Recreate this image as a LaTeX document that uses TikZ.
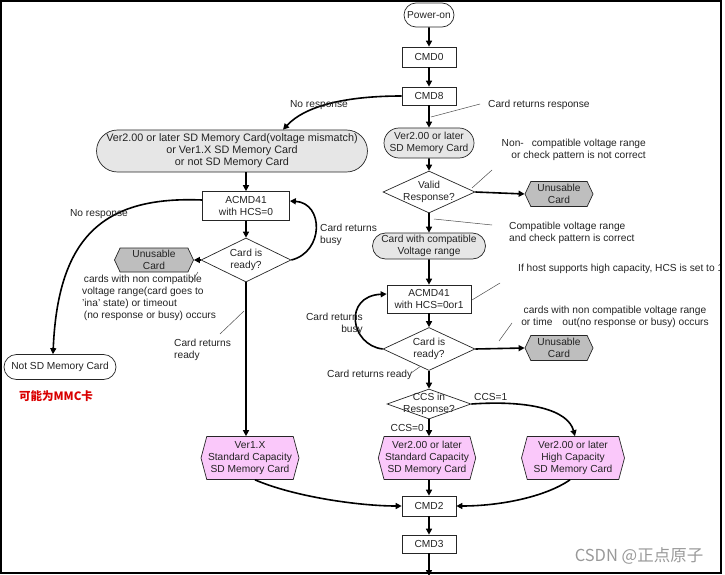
\documentclass[tikz,border=0pt]{standalone}
\usepackage{fontspec}
\setmainfont{Liberation Sans}
\newfontfamily\cjk{Noto Sans CJK SC}
\usetikzlibrary{arrows.meta,shapes.misc,shapes.geometric,shapes.symbols}
\definecolor{gfill}{RGB}{230,230,230}
\definecolor{hfill}{RGB}{190,190,190}
\definecolor{pfill}{RGB}{250,200,250}
\definecolor{lbl}{RGB}{35,35,35}
\tikzset{
 base/.style={draw=black!85, line width=0.7pt, font=\fontsize{10.2}{12}\selectfont, align=center, inner sep=1pt, text=lbl},
 boxn/.style={base, rectangle, minimum width=54, minimum height=20},
 stad/.style={base, rounded rectangle, minimum height=24},
 gstad/.style={stad, fill=gfill},
 dia/.style={base, diamond, minimum width=92, minimum height=42, inner sep=0pt},
 hexn/.style={base, signal, signal to=east and west, signal pointer angle=130, fill=hfill},
 phex/.style={hexn, fill=pfill, signal pointer angle=150},
 arr/.style={line width=1.6pt, -{Triangle[length=6pt,width=6pt]}},
 lead/.style={line width=0.5pt, black!70},
 lab/.style={font=\fontsize{10.2}{12}\selectfont, text=lbl, inner sep=0pt},
}
\begin{document}
\begin{tikzpicture}[x=1pt,y=-1pt]
\useasboundingbox (0,0) rectangle (725,575);
\begin{scope}
\clip (0,0) rectangle (721,575);
% right column
\node[stad, minimum width=52] (pwr) at (429,15) {Power-on};
\node[boxn] (c0) at (429,57) {CMD0};
\node[boxn, minimum height=18] (c8) at (429,96) {CMD8};
\node[gstad, minimum width=258, minimum height=42, font=\fontsize{10.8}{12}\selectfont] (s1) at (232,151) {Ver2.00 or later SD Memory Card(voltage mismatch)\\or Ver1.X SD Memory Card\\or not SD Memory Card};
\node[gstad, minimum width=92, minimum height=30] (s2) at (429,143) {Ver2.00 or later\\SD Memory Card};
\node[dia] (d1) at (429,192) {};
\node[lab, align=center] (d1t) at (d1) {Valid\\Response?};
\node[hexn, minimum width=68, minimum height=25] (u1) at (559,194) {Unusable\\Card};
\node[gstad, minimum width=115, minimum height=26] (s3) at (429,246) {Card with compatible\\Voltage range};
\node[boxn, minimum width=84, minimum height=28] (a2) at (429,299) {ACMD41\\with HCS=0or1};
\node[dia, minimum height=43] (d2) at (429,349) {};
\node[lab, align=center] (d2t) at (d2) {Card is\\ready?};
\node[hexn, minimum width=68, minimum height=25] (u2) at (559,348) {Unusable\\Card};
\node[dia, minimum width=84, minimum height=30] (d3) at (429,404) {};
\node[lab, align=center] (d3t) at (d3) {CCS in\\Response?};
\node[phex, minimum width=98, minimum height=43] (p1) at (250,458) {Ver1.X\\Standard Capacity\\SD Memory Card};
\node[phex, minimum width=97, minimum height=43] (p2) at (427,458) {Ver2.00 or later\\Standard Capacity\\SD Memory Card};
\node[phex, minimum width=103, minimum height=43] (p3) at (573,458) {Ver2.00 or later\\High Capacity\\SD Memory Card};
\node[boxn] (m2) at (429,506) {CMD2};
\node[boxn, minimum height=18] (m3) at (429,544) {CMD3};
\coordinate (bot) at (429,576);
% left column
\node[boxn, minimum width=87, minimum height=29] (a1) at (246,206) {ACMD41\\with HCS=0};
\node[dia, minimum width=90, minimum height=44] (dl) at (246,260) {};
\node[lab, align=center] (dlt) at (dl) {Card is\\ready?};
\node[hexn, minimum width=79, minimum height=24] (ul) at (154,260) {Unusable\\Card};
\node[stad, minimum width=114, minimum height=25] (ns) at (60,367) {Not SD Memory Card};
% arrows
\draw[arr] (pwr) -- (c0);
\draw[arr] (c0) -- (c8);
\draw[arr] (c8) -- (s2);
\draw[arr] (s2) -- (d1);
\draw[arr] (d1.east) -- (u1.west);
\draw[arr] (d1.south) -- (s3.north);
\draw[arr] (s3) -- (a2);
\draw[arr] (a2.south) -- (d2.north);
\draw[arr] (d2.east) -- (u2.west);
\draw[arr] (d2.south) -- (d3.north);
\draw[arr] (d3.south) -- (d3.south |- p2.north);
\draw[arr] (p2.south -| m2.north) -- (m2.north);
\draw[arr] (m2) -- (m3);
\draw[arr] (m3.south) -- (bot);
\draw[arr] (c8.west) .. controls (345,96) and (305,106) .. ([xshift=51pt]s1.north);
\draw[arr] (d2.west) .. controls (350,345) and (343,296) .. ([yshift=5pt]a2.west);
\draw[arr] (d3.east) .. controls (530,400) and (568,410) .. ([xshift=2pt]p3.north);
\draw[arr] ([xshift=5pt]p1.south) .. controls (295,497) and (360,506) .. (m2.west);
\draw[arr] ([xshift=-3pt]p3.south) .. controls (545,497) and (500,506) .. (m2.east);
\draw[arr] (s1.south -| a1.north) -- (a1.north);
\draw[arr] (a1) -- (dl);
\draw[arr] (dl.west) -- (ul.east);
\draw[arr] (dl.east) .. controls (324,252) and (324,203) .. ([yshift=5pt]a1.east);
\draw[arr] (dl.south) -- (dl.south |- p1.north);
\draw[arr] ([yshift=6pt]a1.west) .. controls (105,196) and (58,235) .. ([xshift=-7pt]ns.north);
% labels
\node[lab] (l1) at (319,105) {No response};
\node[lab, anchor=west] (l2) at (488,105) {Card returns response};
\node[lab, anchor=east, align=right] (l3) at (646,150) {Non-\hspace{8pt}compatible voltage range\\or check pattern is not correct};
\node[lab, anchor=west, align=left] (l4) at (509,233) {Compatible voltage range\\ and check pattern is correct};
\node[lab, anchor=west] (l5) at (518,269) {If host supports high capacity, HCS is set to 1};
\node[lab, align=center] (l6) at (615,317) {cards with non compatible voltage range\\or time\hspace{10pt}out(no response or busy) occurs};
\node[lab, anchor=east, align=right] (l7) at (363,324) {Card returns\\busy};
\node[lab, anchor=west] (l8) at (327,375) {Card returns ready};
\node[lab, anchor=west] (l9) at (474,397) {CCS=1};
\node[lab, anchor=east] (l10) at (424,428) {CCS=0};
\node[lab, anchor=west, align=left] (l11) at (320,235) {Card returns\\busy};
\node[lab] (l12) at (99,214) {No response};
\node[lab, anchor=north west, align=left] (l13) at (82,275) {\,cards with non compatible\\voltage range(card goes to\\'ina' state) or timeout\\\,(no response or busy) occurs};
\node[lab, anchor=west, align=left] (l14) at (174,350) {Card returns\\ready};
\node[lab, text=red!85!black, font=\cjk\bfseries\fontsize{11.5}{13}\selectfont] (l15) at (56,396) {可能为MMC卡};
\node[lab, text=black!40, font=\cjk\fontsize{16.5}{18}\selectfont] (l16) at (639,556) {CSDN @正点原子};
% leader lines
\draw[lead] (431,117) -- (480,104);
\draw[lead] (472,188) -- (492,170);
\draw[lead] (434,219) -- (492,225);
\draw[lead] (472,300) -- (500,283);
\draw[lead] (499,341) -- (512,323);
\draw[lead] (411,373) -- (421,366);
\draw[lead] (191,283) -- (198,272);
\draw[lead] (220,334) -- (244,311);
\end{scope}
\draw[line width=1.3pt] (1,1) rectangle (721,573);
\end{tikzpicture}
\end{document}
